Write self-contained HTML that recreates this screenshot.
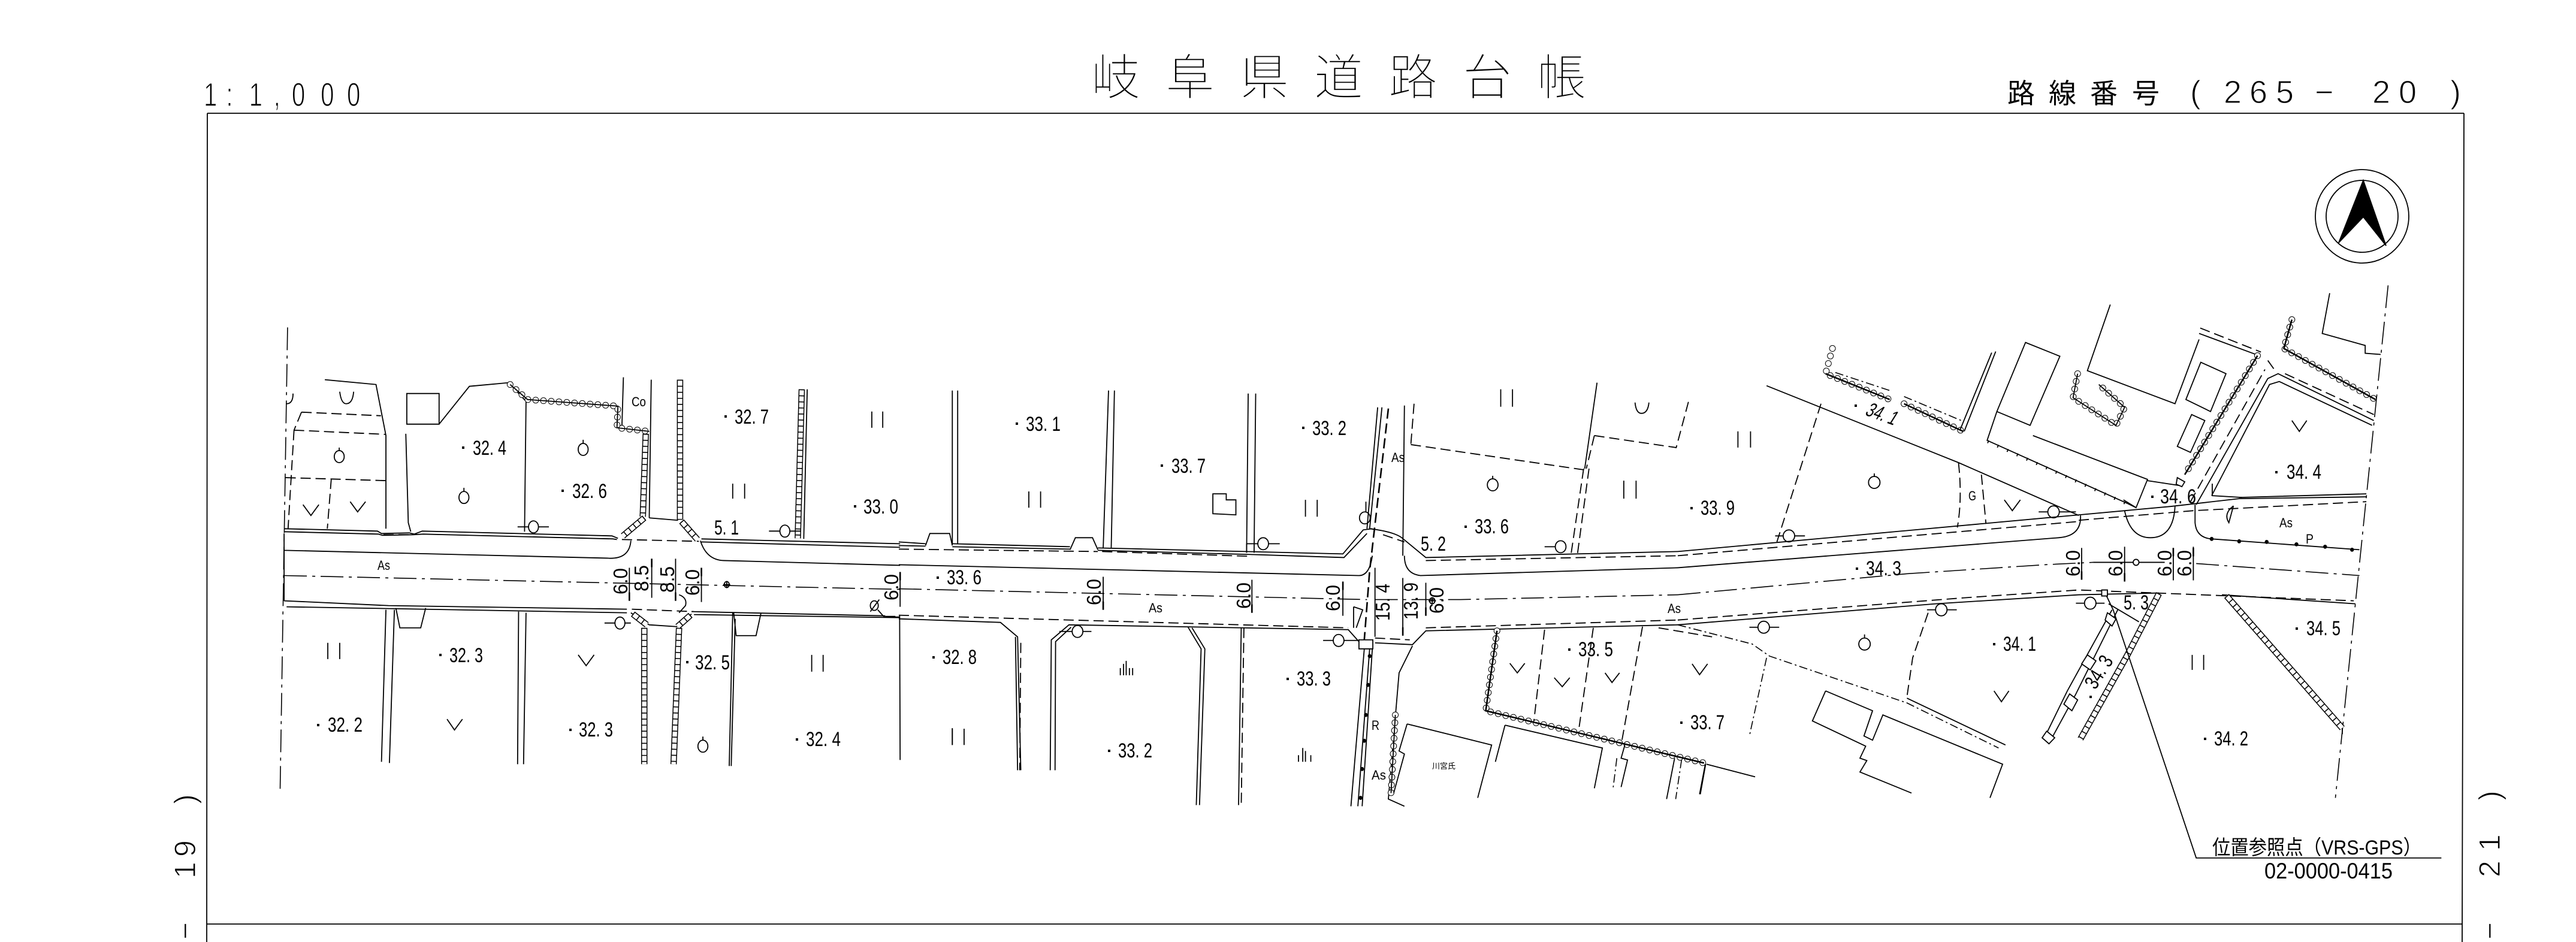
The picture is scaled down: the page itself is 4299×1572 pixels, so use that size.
<!DOCTYPE html>
<html lang="ja"><head><meta charset="utf-8"><title>岐阜県道路台帳</title>
<style>
html,body{margin:0;padding:0;background:#fff}
svg{display:block}
svg *{vector-effect:non-scaling-stroke}
path,line,circle,polyline{fill:none;stroke:#000;stroke-width:1.8}
.d{stroke-dasharray:17 8}
.c{stroke-dasharray:38 9 5 9;stroke-width:1.6}
.w{stroke-dasharray:14 5 3 5;stroke-width:1.6}
.k{stroke-width:2.6}
.b1{stroke-width:11;stroke-dasharray:0 13;stroke-linecap:round}
.b2{stroke-width:9;stroke-dasharray:0 13;stroke-linecap:round;stroke:#fff}
.s1{stroke-width:10.5}
.s2{stroke-width:7.5;stroke:#fff}
.s3{stroke-width:8;stroke-dasharray:1.6 8.5}
text{fill:#000;stroke:none;font-family:"Liberation Sans","Noto Sans CJK JP",sans-serif}
.n{font-size:34px}
.a{font-size:22px}
.r{font-size:33px}
.T{font-family:"Liberation Sans","Noto Sans CJK JP",sans-serif;font-size:82px;font-weight:300;stroke:#fff;stroke-width:1.6;paint-order:normal}
.H{font-size:46px;font-weight:400;font-family:"Liberation Sans","Noto Sans CJK JP",sans-serif}
.L{font-size:56px;stroke:#fff;stroke-width:1.2}
.v{font-size:33px;font-family:"Liberation Sans","Noto Sans CJK JP",sans-serif}
rect{fill:#000}
</style></head><body>
<svg xmlns="http://www.w3.org/2000/svg" width="4299" height="1572" viewBox="0 0 4299 1572">
<rect x="0" y="0" width="4299" height="1572" style="fill:#fff"/>

<!-- frame -->
<path d="M346 189H4112M346 189L345 1572M4112 189L4109 1572M345 1542H4109"/>

<!-- title block -->
<text class="T" x="1821 1945 2069 2193 2317 2441 2565" y="158">岐阜県道路台帳</text>
<text class="L" transform="translate(340,177) scale(.72,1)" x="0 52 105 162 204 271 332">1:1,000</text>
<text class="H" x="3350 3419 3488 3558" y="172">路線番号</text>
<text class="L" transform="translate(3655,172)" x="0 56 99 143 208 304 348 434" style="font-size:54px">(265−20)</text>
<text class="L" transform="translate(326,1568) rotate(-90)" x="0 102 138 226" style="font-size:50px">−19)</text>
<text class="L" transform="translate(4172,1568) rotate(-90)" x="0 104 148 232" style="font-size:50px">−21)</text>

<!-- north arrow -->
<circle cx="3942" cy="361" r="78"/><circle cx="3942" cy="361" r="60"/>
<path d="M3944 301L3903 405L3944 362L3982 410Z" style="fill:#000"/>

<!-- PANEL 1 -->
<g transform="translate(300,0) scale(.8291,1.0026)">
<path class="c" d="M217 545L202 1315"/>
<path d="M210 880L398 884L406 888L462 887L472 889L488 884L870 892L882 896M210 885L400 889L408 891L470 890L490 889L872 897L880 898"/>
<path d="M210 888V1000M210 916L860 929Q905 932 908 900"/>
<path class="d" d="M410 890L465 890M890 898L1045 901"/>
<path d="M945 862L1003 866"/>
<path d="M1048 900Q1060 932 1095 933L1450 941M1050 897L1450 905M1050 902L1450 911"/>
<path class="c" d="M210 958L1450 981"/>
<path d="M210 1000L420 1008L900 1014M215 1010L900 1020M1030 1018L1420 1025M1035 1023L1450 1028M908 1020L945 1040L1000 1043L1030 1022"/>
<path class="d" d="M910 1014L1035 1018M1420 1026L1450 1026"/>
<path class="d" d="M245 686L405 692M245 686L230 716M230 716L415 723M230 716L218 880M213 795L415 800M305 797L297 880"/>
<path d="M292 632L395 640L415 725V880M322 652Q325 672 335 672Q348 672 350 652M215 672Q228 672 228 655"/>
<path d="M248 840L264 858L280 840M343 835L358 852L374 835M802 1090L818 1108L834 1090M538 1197L553 1215L569 1197"/>
<circle cx="321" cy="760" r="10"/><path d="M321 745V750"/>
<circle cx="572" cy="828" r="10"/><path d="M572 812V818"/>
<circle cx="812" cy="748" r="10"/><path d="M812 732V738"/>
<circle cx="1053" cy="1242" r="10"/><path d="M1053 1226V1232"/>
<path d="M457 655H522V706H457ZM522 706L583 643L662 637L697 668M455 722L460 870L465 885M697 668L694 885"/>
<circle cx="712" cy="877" r="10"/><path d="M680 877H702M722 877H743"/>
<path d="M893 628L890 710M949 632L945 862"/>
<path class="b1" d="M665 640L700 665L882 676L880 712L945 718"/><path class="b2" d="M665 640L700 665L882 676L880 712L945 718"/><path d="M665 640L700 665L882 676L880 712L945 718"/>
<path class="s1" d="M938 722L932 860"/><path class="s2" d="M938 722L932 860"/><path class="s3" d="M938 722L932 860"/>
<path class="s1" d="M1007 632L1007 865"/><path class="s2" d="M1007 632L1007 865"/><path class="s3" d="M1007 632L1007 865"/>
<path class="s1" d="M935 862L892 892"/><path class="s2" d="M935 862L892 892"/><path class="s3" d="M935 862L892 892"/>
<path class="s1" d="M1010 868L1042 898"/><path class="s2" d="M1010 868L1042 898"/><path class="s3" d="M1010 868L1042 898"/>
<path class="s1" d="M1252 648L1244 896"/><path class="s2" d="M1252 648L1244 896"/><path class="s3" d="M1252 648L1244 896"/>
<path d="M1263 648L1256 897"/>
<path d="M1393 685V712M1415 685V712M1113 805V830M1137 805V830M298 1070V1097M322 1070V1097M1272 1090V1118M1295 1090V1118M1555 1212V1240"/>
<circle cx="1218" cy="884" r="10"/><path d="M1186 884H1208M1228 884H1250"/>
<path d="M415 1015L406 1268M432 1015L422 1270M435 1012L443 1045H485L495 1012M682 1018L680 1272M697 1020L692 1272"/>
<path class="s1" d="M935 1045L935 1272"/><path class="s2" d="M935 1045L935 1272"/><path class="s3" d="M935 1045L935 1272"/>
<path class="s1" d="M1005 1045L994 1272"/><path class="s2" d="M1005 1045L994 1272"/><path class="s3" d="M1005 1045L994 1272"/>
<path class="s1" d="M912 1022L940 1040"/><path class="s2" d="M912 1022L940 1040"/><path class="s3" d="M912 1022L940 1040"/>
<path class="s1" d="M1028 1024L1002 1043"/><path class="s2" d="M1028 1024L1002 1043"/><path class="s3" d="M1028 1024L1002 1043"/>
<circle cx="886" cy="1037" r="10"/><path d="M855 1037H876M896 1037H908"/>
<path d="M1113 1020L1106 1275M1118 1030L1110 1275M1115 1020L1120 1058H1160L1170 1020M1449 1025L1450 1265"/>
<path d="M905 945V1000M950 930V995M998 930V1000M1050 945V1002M1450 952V1010"/>
<path class="k" d="M905 986V1000M950 930V944M998 986V1000M1050 945V959M1450 952V966"/>
<circle cx="1101" cy="973" r="5"/><path d="M1094 973H1108M1101 967V979"/>
<path d="M1005 990Q1022 995 1018 1008L1005 1020"/>
<circle cx="1398" cy="1008" r="8"/><path d="M1390 1018L1408 998M1405 1015L1418 1027L1449 1027"/>
</g>

<!-- PANEL 2 -->
<g transform="translate(1500,0) scale(.8929,1.0026)">
<path d="M0 902L50 905M100 905L320 910M372 912L830 922L868 882L885 880M0 908L50 909M100 910L320 914M372 916L660 923L832 928L875 888"/>
<path d="M50 908L58 888H95L100 908M320 915L330 895H362L372 915"/>
<path class="d" d="M380 918L660 926M0 914L372 918"/>
<path d="M0 940L860 958Q880 958 885 925"/>
<path class="c" d="M0 980L875 998M890 998L1050 998L1456 990"/>
<path class="d" d="M0 1024L840 1045M985 1045L1456 1032"/>
<path d="M0 1030L190 1036L222 1060L228 1282M218 1060L222 1282M283 1282L285 1065L318 1040L840 1048L860 1068M292 1282L293 1068L322 1044"/>
<path d="M540 1043L565 1080L556 1340M548 1045L572 1080L562 1340M635 1340L640 1045"/>
<path class="d" d="M645 1045L640 1340M228 1070L226 1282"/>
<path d="M945 925Q945 955 975 958L1456 945M880 880Q925 885 940 895L985 928L1456 918M985 933"/>
<path class="d" d="M985 933L1456 925M985 1045"/>
<path d="M890 1070L960 1073L985 1050L1456 1040"/>
<path class="d" d="M890 1062L955 1065"/>
<path d="M903 678L880 880M895 678L875 880"/>
<path class="k d" d="M915 680L880 950L870 1065"/>
<path d="M945 675L942 925"/><path class="d" d="M963 672L957 740"/>
<rect x="860" y="1065" width="26" height="15" style="fill:#fff;stroke:#000;stroke-width:1.8"/>
<path d="M870 1080L845 1342M880 1080L858 1342M885 1080L866 1342"/>
<circle cx="880" cy="1092" r="2.5" style="fill:#000"/><circle cx="877" cy="1140" r="2.5" style="fill:#000"/><circle cx="873" cy="1190" r="2.5" style="fill:#000"/><circle cx="870" cy="1233" r="2.5" style="fill:#000"/><circle cx="866" cy="1280" r="2.5" style="fill:#000"/><circle cx="863" cy="1328" r="2.5" style="fill:#000"/>
<path d="M960 1075L935 1120L915 1330L945 1342"/>
<path class="b1" d="M928 1190L920 1320"/><path class="b2" d="M928 1190L920 1320"/><path d="M928 1190L920 1320"/>
<path d="M950 1205L1108 1240L1082 1328M950 1205L935 1250L945 1255L925 1320M1133 1207L1315 1245L1300 1312M1133 1207L1115 1268"/>
<path class="b1" d="M1118 1050L1097 1183L1505 1270"/><path class="b2" d="M1118 1050L1097 1183L1505 1270"/><path class="k" d="M1118 1050L1097 1183L1505 1270"/>
<path class="d" d="M1207 1048L1187 1200M1298 1045L1270 1220M1390 1043L1350 1240"/>
<path d="M1357 1240L1350 1262L1362 1265L1350 1310M1450 1262L1435 1330M1508 1272L1498 1322"/>
<path class="w" d="M1342 1262L1335 1312M1463 1265L1452 1330"/>
<path d="M1142 1104L1156 1120L1170 1104M1225 1128L1240 1143L1254 1128M1320 1120L1333 1136L1347 1120"/>
<path class="d" d="M1420 1045L1520 1060"/>
<path d="M100 650V905M110 650V905M392 650L382 912M403 650L397 912M653 655L650 920M667 655L664 920"/>
<path d="M243 818V845M265 818V845M760 832V860M782 832V860M1125 648V677M1147 648V677M1355 800V830M1378 800V830M100 1213V1240M122 1213V1240"/>
<path d="M587 822H612V832H630V857L587 855Z"/>
<circle cx="681" cy="905" r="10"/><path d="M650 905H671M691 905H712M650 905V920"/>
<circle cx="871" cy="862" r="10"/><path d="M873 835V852"/>
<circle cx="1237" cy="910" r="10"/><path d="M1207 910H1227"/>
<circle cx="1110" cy="807" r="10"/><path d="M1110 792V797"/>
<path d="M1376 670Q1378 688 1388 688Q1400 688 1402 670"/>
<path d="M1305 637L1282 780"/>
<path class="d" d="M1280 780L1256 925M1290 780L1268 925M957 740L1280 782M1300 725L1285 780M1300 725L1453 745L1477 665"/>
<path d="M414 1112V1124M420 1105V1124M425 1100V1124M431 1112V1124M437 1112V1124M747 1257V1268M755 1245V1268M760 1250V1268M770 1257V1268"/>
<circle cx="334" cy="1051" r="10"/><path d="M300 1051H324M344 1051H360"/>
<circle cx="822" cy="1066" r="10"/><path d="M793 1066H812M832 1066H858"/>
<path d="M382 960V1015M660 965V1020M830 968V1025M890 945V1060M942 962V1058M985 970V1025"/>
<path class="k" d="M382 1001V1015M660 1006V1020M830 968V982M942 1044V1058M985 1011V1025"/>
<circle cx="997" cy="1000" r="5"/><path d="M990 1000H1004M997 994V1006"/>
<path d="M850 1010L867 1015L855 1045M850 1010V1045"/>
<path class="d" d="M905 890L945 902"/>
</g>

<!-- PANEL 3 -->
<g transform="translate(2800,0) scale(.956,1.0026)">
<path d="M0 918L700 857L860 843L980 830L1202 827M980 828L1202 822"/>
<path class="d" d="M0 925L700 868M700 866L900 850L1202 835"/>
<path d="M0 945L665 895Q705 892 703 858M780 850Q790 895 825 895Q865 895 868 843M903 840V870Q905 895 932 897L1190 915"/>
<circle cx="932" cy="897" r="2.5" style="fill:#000"/><circle cx="980" cy="901" r="2.5" style="fill:#000"/><circle cx="1028" cy="902" r="2.5" style="fill:#000"/><circle cx="1080" cy="906" r="2.5" style="fill:#000"/><circle cx="1130" cy="910" r="2.5" style="fill:#000"/><circle cx="1177" cy="915" r="2.5" style="fill:#000"/>
<path class="c" d="M0 990L400 955M400 955L640 940L725 936M905 938L1190 958"/>
<path class="d" d="M0 1032L500 995L700 982L1180 1000"/>
<path d="M0 1040L450 1005L700 990L840 987M950 990L1183 1005"/>
<path d="M155 642L490 770L700 858"/>
<path class="d" d="M250 672L172 905M530 790L538 872M490 770Q497 830 488 878M437 1020L410 1095L400 1160"/>
<path d="M105 718V745M127 718V745M898 1090V1115M918 1090V1115"/>
<circle cx="343" cy="803" r="10"/><path d="M343 788V793"/>
<circle cx="326" cy="1072" r="10"/><path d="M326 1056V1062"/>
<circle cx="194" cy="892" r="10"/><path d="M170 892H184M204 892H222"/>
<circle cx="656" cy="852" r="10"/><path d="M630 852H646M666 852H695"/>
<path d="M570 832L584 850L598 832M25 1105L38 1123L52 1105M552 1150L565 1168L578 1150M1072 700L1085 718L1098 700"/>
<path class="b1" d="M270 580L258 622L370 665"/><path class="b2" d="M270 580L258 622L370 665"/><path class="k" d="M258 622L370 665"/>
<path class="b1" d="M395 672L498 718"/><path class="b2" d="M395 672L498 718"/><path class="k" d="M395 672L498 718"/>
<path class="w" d="M275 620L370 650M395 660L495 700"/>
<path d="M500 718L555 585M493 715L548 587"/>
<path d="M607 570L667 593L615 708L557 685ZM557 685L540 733L785 838"/>
<path d="M620 725L820 798L800 845L778 832M785 838L800 845"/>
<path class="d" d="M541 735L785 839" style="stroke-width:5;stroke-dasharray:1.8 16;stroke-dashoffset:0"/>
<path d="M755 507L715 617L868 672L910 565"/>
<path d="M910 555L1015 592"/><path class="d" d="M912 546L1018 586"/>
<path class="b1" d="M1012 592L885 790"/><path class="b2" d="M1012 592L885 790"/><path class="k" d="M1012 592L885 790"/>
<path d="M913 603L957 622L930 685L887 665ZM897 690L920 700L895 753L872 743ZM820 800L875 808M872 795L885 802L880 810L870 806Z"/>
<path class="b1" d="M698 622L690 662L765 708L780 678L735 640"/><path class="b2" d="M698 622L690 662L765 708L780 678L735 640"/><path d="M698 622L690 662L765 708L780 678L735 640"/>
<path class="b1" d="M1072 532L1058 580L1218 665"/><path class="b2" d="M1072 532L1058 580L1218 665"/><path class="k" d="M1072 532L1058 580L1218 665"/>
<path d="M1138 488L1125 555L1200 575V588L1227 590"/>
<path class="c" d="M1240 475L1148 1328"/>
<path d="M905 840L1030 630L1048 622L1215 700M932 825L1033 640L1050 635L1212 708M933 805V825L985 828"/>
<path class="d" d="M895 835L1025 615M1060 622L1215 690M1030 600L1045 620"/>
<path d="M970 842Q952 855 962 870L970 842"/>
<path d="M705 912V965M780 910V968M865 912V966M900 910V966"/>
<path class="k" d="M705 951V965M780 954V968M865 912V926M900 912V926"/>
<circle cx="800" cy="936" r="5"/><path d="M725 936H795M805 936H850"/>
<path class="s1" d="M958 992L1160 1212"/><path class="s2" d="M958 992L1160 1212"/><path class="s3" d="M958 992L1160 1212"/>
<path d="M1160 1212V1222"/>
<path class="s1" d="M840 988L785 1090L703 1230"/><path class="s2" d="M840 988L785 1090L703 1230"/><path class="s3" d="M840 988L785 1090L703 1230"/>
<path d="M745 985L760 1015L905 1428H1333M752 1005L805 1035M758 1015L680 1150L640 1228M768 1015L695 1155L655 1225"/>
<path d="M740 982H750V992H740ZM750 1020L765 1030L758 1042L746 1032ZM715 1090L730 1100L720 1115L705 1105ZM684 1155L698 1165L688 1183L674 1172ZM644 1217L658 1228L648 1238L636 1228Z" style="fill:#fff"/>
<circle cx="720" cy="1004" r="10"/><path d="M695 1004H710M730 1004H745"/>
<circle cx="460" cy="1015" r="10"/><path d="M435 1015H450M470 1015H487"/>
<circle cx="150" cy="1044" r="10"/><path d="M125 1044H140M160 1044H177"/>
<path class="w" d="M0 1040L130 1072L160 1092L400 1170L560 1245M155 1095L125 1225"/>
<path d="M400 1162L572 1240"/>
<path d="M50 1272L135 1293M48 1272L38 1322"/>
<path d="M258 1150L340 1183L325 1225L340 1232L358 1190L567 1272L545 1328M258 1150L235 1200L328 1242L318 1262L330 1266L318 1285L408 1320"/>
</g>

<!-- road labels -->
<g>
<text class="n" x="789" y="759" textLength="56" lengthAdjust="spacingAndGlyphs">32. 4</text><rect x="771" y="745" width="4" height="4"/>
<text class="n" x="955" y="831" textLength="58" lengthAdjust="spacingAndGlyphs">32. 6</text><rect x="937" y="817" width="4" height="4"/>
<text class="n" x="1226" y="707" textLength="57" lengthAdjust="spacingAndGlyphs">32. 7</text><rect x="1209" y="693" width="4" height="4"/>
<text class="n" x="1441" y="857" textLength="58" lengthAdjust="spacingAndGlyphs">33. 0</text><rect x="1425" y="843" width="4" height="4"/>
<text class="n" x="1192" y="892" textLength="41" lengthAdjust="spacingAndGlyphs">5. 1</text>
<text class="a" x="630" y="951" textLength="21" lengthAdjust="spacingAndGlyphs">As</text>
<text class="a" x="1054" y="678" textLength="24" lengthAdjust="spacingAndGlyphs">Co</text>
<text class="n" x="750" y="1105" textLength="56" lengthAdjust="spacingAndGlyphs">32. 3</text><rect x="733" y="1091" width="4" height="4"/>
<text class="n" x="1160" y="1117" textLength="58" lengthAdjust="spacingAndGlyphs">32. 5</text><rect x="1145" y="1103" width="4" height="4"/>
<text class="n" x="547" y="1221" textLength="58" lengthAdjust="spacingAndGlyphs">32. 2</text><rect x="529" y="1208" width="4" height="4"/>
<text class="n" x="966" y="1229" textLength="57" lengthAdjust="spacingAndGlyphs">32. 3</text><rect x="950" y="1216" width="4" height="4"/>
<text class="n" x="1345" y="1245" textLength="58" lengthAdjust="spacingAndGlyphs">32. 4</text><rect x="1328" y="1232" width="4" height="4"/>
<text class="n" x="1712" y="719" textLength="58" lengthAdjust="spacingAndGlyphs">33. 1</text><rect x="1695" y="705" width="4" height="4"/>
<text class="n" x="1955" y="789" textLength="57" lengthAdjust="spacingAndGlyphs">33. 7</text><rect x="1937" y="775" width="4" height="4"/>
<text class="n" x="2190" y="726" textLength="57" lengthAdjust="spacingAndGlyphs">33. 2</text><rect x="2173" y="712" width="4" height="4"/>
<text class="n" x="1580" y="975" textLength="58" lengthAdjust="spacingAndGlyphs">33. 6</text><rect x="1563" y="962" width="4" height="4"/>
<text class="n" x="1573" y="1108" textLength="57" lengthAdjust="spacingAndGlyphs">32. 8</text><rect x="1556" y="1095" width="4" height="4"/>
<text class="n" x="2164" y="1144" textLength="57" lengthAdjust="spacingAndGlyphs">33. 3</text><rect x="2147" y="1131" width="4" height="4"/>
<text class="n" x="1866" y="1264" textLength="57" lengthAdjust="spacingAndGlyphs">33. 2</text><rect x="1849" y="1251" width="4" height="4"/>
<text class="n" x="2461" y="890" textLength="57" lengthAdjust="spacingAndGlyphs">33. 6</text><rect x="2444" y="877" width="4" height="4"/>
<text class="n" x="2371" y="919" textLength="42" lengthAdjust="spacingAndGlyphs">5. 2</text>
<text class="n" x="2838" y="859" textLength="57" lengthAdjust="spacingAndGlyphs">33. 9</text><rect x="2821" y="846" width="4" height="4"/>
<text class="n" x="2634" y="1095" textLength="58" lengthAdjust="spacingAndGlyphs">33. 5</text><rect x="2617" y="1082" width="4" height="4"/>
<text class="n" x="2821" y="1217" textLength="57" lengthAdjust="spacingAndGlyphs">33. 7</text><rect x="2804" y="1204" width="4" height="4"/>
<text class="a" x="1917" y="1022" textLength="23" lengthAdjust="spacingAndGlyphs">As</text>
<text class="a" x="2322" y="771" textLength="22" lengthAdjust="spacingAndGlyphs">As</text>
<text class="a" x="2783" y="1023" textLength="22" lengthAdjust="spacingAndGlyphs">As</text>
<text class="a" x="2289" y="1218" textLength="13" lengthAdjust="spacingAndGlyphs">R</text>
<text class="a" x="2289" y="1301" textLength="24" lengthAdjust="spacingAndGlyphs">As</text>
<text x="2390" y="1283" style="font-size:13px">川宮氏</text>
<text class="n" transform="translate(3111,692) rotate(20) skewX(-12)" textLength="52" lengthAdjust="spacingAndGlyphs">34. 1</text><rect x="3095" y="675" width="4" height="4"/>
<text class="n" x="3114" y="960" textLength="59" lengthAdjust="spacingAndGlyphs">34. 3</text><rect x="3097" y="947" width="4" height="4"/>
<text class="n" x="3605" y="840" textLength="60" lengthAdjust="spacingAndGlyphs">34. 6</text><rect x="3590" y="827" width="4" height="4"/>
<text class="n" x="3816" y="799" textLength="58" lengthAdjust="spacingAndGlyphs">34. 4</text><rect x="3797" y="786" width="4" height="4"/>
<text class="n" x="3849" y="1060" textLength="57" lengthAdjust="spacingAndGlyphs">34. 5</text><rect x="3831" y="1047" width="4" height="4"/>
<text class="n" x="3343" y="1086" textLength="55" lengthAdjust="spacingAndGlyphs">34. 1</text><rect x="3326" y="1073" width="4" height="4"/>
<text class="n" x="3695" y="1244" textLength="57" lengthAdjust="spacingAndGlyphs">34. 2</text><rect x="3678" y="1231" width="4" height="4"/>
<text class="n" x="3544" y="1017" textLength="42" lengthAdjust="spacingAndGlyphs">5. 3</text>
<text class="n" transform="translate(3497,1152) rotate(-58)" textLength="58" lengthAdjust="spacingAndGlyphs">34. 3</text><rect x="3487" y="1161" width="4" height="4"/>
<text class="a" x="3285" y="835" textLength="13" lengthAdjust="spacingAndGlyphs">G</text>
<text class="a" x="3804" y="880" textLength="22" lengthAdjust="spacingAndGlyphs">As</text>
<text class="a" x="3848" y="907" textLength="13" lengthAdjust="spacingAndGlyphs">P</text>
<text x="3692" y="1426" textLength="349" lengthAdjust="spacingAndGlyphs" style="font-size:34px">位置参照点（VRS-GPS）</text>
<text x="3779" y="1466" textLength="214" lengthAdjust="spacingAndGlyphs" style="font-size:37px">02-0000-0415</text>
</g>

<!-- rotated dimensions -->
<g>
<text class="v" transform="translate(1047,992) rotate(-90)" textLength="44" lengthAdjust="spacingAndGlyphs">6.0</text>
<text class="v" transform="translate(1082,987) rotate(-90)" textLength="44" lengthAdjust="spacingAndGlyphs">8.5</text>
<text class="v" transform="translate(1125,989) rotate(-90)" textLength="44" lengthAdjust="spacingAndGlyphs">8.5</text>
<text class="v" transform="translate(1167,994) rotate(-90)" textLength="44" lengthAdjust="spacingAndGlyphs">6.0</text>
<text class="v" transform="translate(1499,1002) rotate(-90)" textLength="44" lengthAdjust="spacingAndGlyphs">6.0</text>
<text class="v" transform="translate(1837,1010) rotate(-90)" textLength="44" lengthAdjust="spacingAndGlyphs">6.0</text>
<text class="v" transform="translate(2087,1016) rotate(-90)" textLength="44" lengthAdjust="spacingAndGlyphs">6.0</text>
<text class="v" transform="translate(2236,1020) rotate(-90)" textLength="44" lengthAdjust="spacingAndGlyphs">6.0</text>
<text class="v" transform="translate(2319,1036) rotate(-90)" textLength="62" lengthAdjust="spacingAndGlyphs">15. 4</text>
<text class="v" transform="translate(2366,1034) rotate(-90)" textLength="62" lengthAdjust="spacingAndGlyphs">13. 9</text>
<text class="v" transform="translate(2409,1024) rotate(-90)" textLength="44" lengthAdjust="spacingAndGlyphs">6.0</text>
<text class="v" transform="translate(3471,962) rotate(-90)" textLength="44" lengthAdjust="spacingAndGlyphs">6.0</text>
<text class="v" transform="translate(3542,962) rotate(-90)" textLength="44" lengthAdjust="spacingAndGlyphs">6.0</text>
<text class="v" transform="translate(3624,962) rotate(-90)" textLength="44" lengthAdjust="spacingAndGlyphs">6.0</text>
<text class="v" transform="translate(3657,962) rotate(-90)" textLength="44" lengthAdjust="spacingAndGlyphs">6.0</text>
</g>
</svg>
</body></html>
